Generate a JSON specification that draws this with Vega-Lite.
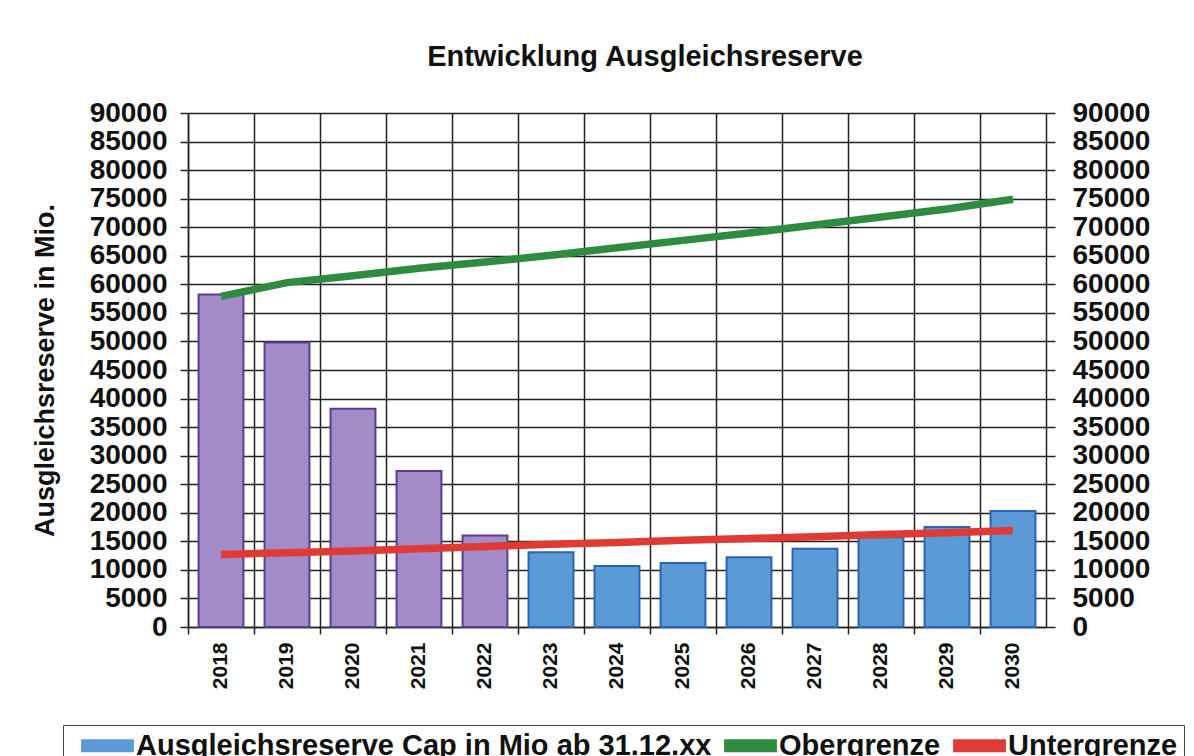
{
  "$schema": "https://vega.github.io/schema/vega-lite/v6.json",
  "width": 858,
  "height": 514,
  "autosize": {"type": "none"},
  "padding": {"left": 188, "top": 113, "right": 148, "bottom": 129},
  "background": "white",
  "title": {
    "text": "Entwicklung Ausgleichsreserve",
    "font": "Liberation Sans",
    "fontSize": 29,
    "fontWeight": "bold",
    "color": "#111111",
    "anchor": "middle",
    "offset": 27,
    "dx": 28
  },
  "config": {
    "view": {"stroke": null},
    "font": "Liberation Sans"
  },
  "datasets": {
    "bars": [
      {"year": 2018, "value": 58200, "serie": "Ausgleichsreserve Cap in Mio ab 31.12.xx"},
      {"year": 2019, "value": 49800, "serie": "Ausgleichsreserve Cap in Mio ab 31.12.xx"},
      {"year": 2020, "value": 38200, "serie": "Ausgleichsreserve Cap in Mio ab 31.12.xx"},
      {"year": 2021, "value": 27300, "serie": "Ausgleichsreserve Cap in Mio ab 31.12.xx"},
      {"year": 2022, "value": 16000, "serie": "Ausgleichsreserve Cap in Mio ab 31.12.xx"},
      {"year": 2023, "value": 13100, "serie": "Ausgleichsreserve Cap in Mio ab 31.12.xx"},
      {"year": 2024, "value": 10700, "serie": "Ausgleichsreserve Cap in Mio ab 31.12.xx"},
      {"year": 2025, "value": 11200, "serie": "Ausgleichsreserve Cap in Mio ab 31.12.xx"},
      {"year": 2026, "value": 12200, "serie": "Ausgleichsreserve Cap in Mio ab 31.12.xx"},
      {"year": 2027, "value": 13700, "serie": "Ausgleichsreserve Cap in Mio ab 31.12.xx"},
      {"year": 2028, "value": 15700, "serie": "Ausgleichsreserve Cap in Mio ab 31.12.xx"},
      {"year": 2029, "value": 17500, "serie": "Ausgleichsreserve Cap in Mio ab 31.12.xx"},
      {"year": 2030, "value": 20300, "serie": "Ausgleichsreserve Cap in Mio ab 31.12.xx"}
    ],
    "lines": [
      {"year": 2018, "value": 57900, "serie": "Obergrenze"},
      {"year": 2019, "value": 60300, "serie": "Obergrenze"},
      {"year": 2020, "value": 61500, "serie": "Obergrenze"},
      {"year": 2021, "value": 62800, "serie": "Obergrenze"},
      {"year": 2022, "value": 63900, "serie": "Obergrenze"},
      {"year": 2023, "value": 65100, "serie": "Obergrenze"},
      {"year": 2024, "value": 66400, "serie": "Obergrenze"},
      {"year": 2025, "value": 67700, "serie": "Obergrenze"},
      {"year": 2026, "value": 69000, "serie": "Obergrenze"},
      {"year": 2027, "value": 70400, "serie": "Obergrenze"},
      {"year": 2028, "value": 71800, "serie": "Obergrenze"},
      {"year": 2029, "value": 73200, "serie": "Obergrenze"},
      {"year": 2030, "value": 74900, "serie": "Obergrenze"},
      {"year": 2018, "value": 12700, "serie": "Untergrenze"},
      {"year": 2019, "value": 13000, "serie": "Untergrenze"},
      {"year": 2020, "value": 13300, "serie": "Untergrenze"},
      {"year": 2021, "value": 13700, "serie": "Untergrenze"},
      {"year": 2022, "value": 14100, "serie": "Untergrenze"},
      {"year": 2023, "value": 14500, "serie": "Untergrenze"},
      {"year": 2024, "value": 14800, "serie": "Untergrenze"},
      {"year": 2025, "value": 15200, "serie": "Untergrenze"},
      {"year": 2026, "value": 15500, "serie": "Untergrenze"},
      {"year": 2027, "value": 15800, "serie": "Untergrenze"},
      {"year": 2028, "value": 16200, "serie": "Untergrenze"},
      {"year": 2029, "value": 16500, "serie": "Untergrenze"},
      {"year": 2030, "value": 16900, "serie": "Untergrenze"}
    ]
  },
  "layer": [
    {
      "data": {"name": "bars"},
      "mark": {"type": "bar", "strokeWidth": 2, "width": {"band": 0.68}},
      "encoding": {
        "x": {
          "field": "year",
          "type": "ordinal",
          "scale": {"paddingInner": 0, "paddingOuter": 0},
          "axis": {
            "title": null,
            "labelAngle": -90,
            "labelFontSize": 21,
            "labelFontWeight": "bold",
            "labelColor": "#111111",
            "bandPosition": 0,
            "grid": true,
            "gridColor": "#222222",
            "gridWidth": 1.5,
            "tickColor": "#222222",
            "tickSize": 7,
            "tickWidth": 1.5,
            "domainColor": "#222222",
            "domainWidth": 1.5,
            "labelPadding": 8
          }
        },
        "y": {
          "field": "value",
          "type": "quantitative",
          "scale": {"domain": [0, 90000], "nice": false},
          "axis": {
            "orient": "left",
            "title": "Ausgleichsreserve in Mio.",
            "titleFontSize": 27,
            "titleFontWeight": "bold",
            "titleColor": "#111111",
            "titlePadding": 30,
            "values": [0, 5000, 10000, 15000, 20000, 25000, 30000, 35000, 40000, 45000, 50000, 55000, 60000, 65000, 70000, 75000, 80000, 85000, 90000],
            "format": "d",
            "labelFontSize": 28,
            "labelFontWeight": "bold",
            "labelColor": "#111111",
            "labelOverlap": false,
            "labelFlush": false,
            "grid": true,
            "gridColor": "#222222",
            "gridWidth": 1.5,
            "tickColor": "#222222",
            "tickSize": 8,
            "tickWidth": 1.5,
            "domainColor": "#222222",
            "domainWidth": 1.5,
            "labelPadding": 13
          }
        },
        "color": {
          "condition": {"test": "datum.year <= 2022", "value": "#a28bc6"},
          "field": "serie",
          "type": "nominal",
          "scale": {
            "domain": ["Ausgleichsreserve Cap in Mio ab 31.12.xx", "Obergrenze", "Untergrenze"],
            "range": ["#5b9bd5", "#2e8b3f", "#e03a35"]
          },
          "legend": {
            "orient": "none",
            "legendX": -125,
            "legendY": 612,
            "direction": "horizontal",
            "title": null,
            "labelFontSize": 29,
            "labelFontWeight": "bold",
            "labelColor": "#111111",
            "labelLimit": 800,
            "symbolType": "M-2.4,-0.6H2.4V0.6H-2.4Z",
            "symbolSize": 484,
            "symbolStrokeWidth": 0,
            "symbolOffset": 24,
            "labelOffset": 14,
            "columnPadding": -8,
            "strokeColor": "#444444",
            "padding": 6
          }
        },
        "stroke": {
          "condition": {"test": "datum.year <= 2022", "value": "#5b3d8f"},
          "value": "#2a62b8"
        }
      }
    },
    {
      "data": {"name": "lines"},
      "mark": {"type": "line", "strokeWidth": 7.5, "strokeCap": "butt"},
      "encoding": {
        "x": {"field": "year", "type": "ordinal"},
        "y": {
          "field": "value",
          "type": "quantitative",
          "axis": {
            "orient": "right",
            "title": null,
            "values": [0, 5000, 10000, 15000, 20000, 25000, 30000, 35000, 40000, 45000, 50000, 55000, 60000, 65000, 70000, 75000, 80000, 85000, 90000],
            "format": "d",
            "labelFontSize": 28,
            "labelFontWeight": "bold",
            "labelColor": "#111111",
            "labelOverlap": false,
            "labelFlush": false,
            "grid": false,
            "tickColor": "#222222",
            "tickSize": 9,
            "tickWidth": 1.5,
            "domainColor": "#222222",
            "domainWidth": 1.5,
            "labelPadding": 17
          }
        },
        "color": {"field": "serie", "type": "nominal"}
      }
    }
  ],
  "resolve": {"axis": {"y": "independent"}}
}
